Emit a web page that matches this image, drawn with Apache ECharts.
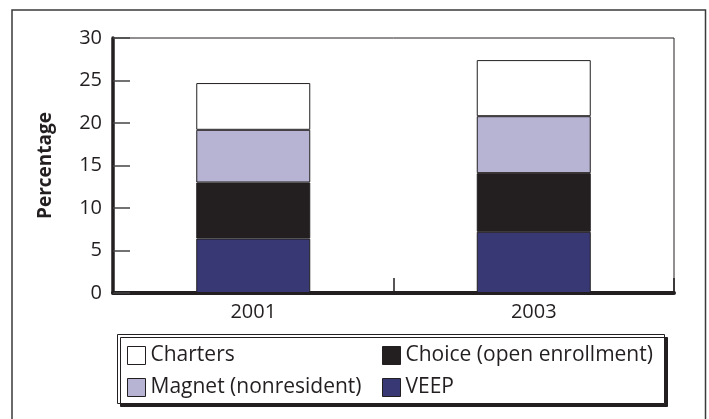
<!DOCTYPE html>
<html>
<head>
<meta charset="utf-8">
<script src="https://cdn.jsdelivr.net/npm/echarts@6/dist/echarts.min.js"></script>
<style>
  html, body { margin: 0; padding: 0; background: #fff; }
  #chart { width: 709px; height: 419px; }
</style>
</head>
<body>
<div id="chart"></div>
<script>
// values, percent
const years = ['2001', '2003'];
const veep = [6.4, 7.2];
const choice = [6.6, 6.9];
const magnet = [6.2, 6.7];
const charters = [5.5, 6.6];

const ink = '#231f20';
const font = 'Open Sans';

const chart = echarts.init(document.getElementById('chart'));

function stackBar(name, data, color) {
    return {
        name: name,
        type: 'bar',
        stack: 'total',
        data: data,
        barWidth: 114,
        itemStyle: { color: color, borderColor: ink, borderWidth: 1 }
    };
}

const legendBase = {
    orient: 'vertical',
    top: 345,
    padding: 0,
    itemWidth: 18,
    itemHeight: 18,
    itemGap: 11,
    icon: 'rect',
    selectedMode: false,
    itemStyle: { borderColor: ink, borderWidth: 1 },
    textStyle: { fontFamily: font, fontSize: 21, color: ink }
};

const option = {
    animation: false,
    grid: {
        left: 113, top: 38, width: 561, height: 255,
        show: true, borderColor: ink, borderWidth: 1
    },
    xAxis: {
        type: 'category',
        data: years,
        axisLine: { lineStyle: { color: ink, width: 4 } },
        axisTick: { show: true, inside: true, length: 15, lineStyle: { color: ink, width: 1.5 } },
        axisLabel: { fontFamily: font, fontSize: 20, color: ink, margin: 9 }
    },
    yAxis: {
        type: 'value',
        min: 0, max: 30, interval: 5,
        name: 'Percentage',
        nameLocation: 'middle',
        nameRotate: 90,
        nameGap: 58,
        nameTextStyle: { fontFamily: font, fontSize: 19, fontWeight: 'bold', color: ink },
        splitLine: { show: false },
        axisLine: { show: true, lineStyle: { color: ink, width: 3.5 } },
        axisTick: { show: true, inside: true, length: 17, lineStyle: { color: '#444', width: 1.5 } },
        axisLabel: { fontFamily: font, fontSize: 20, color: ink, margin: 11 }
    },
    legend: [
        Object.assign({}, legendBase, { left: 127, data: ['Charters', 'Magnet (nonresident)'] }),
        Object.assign({}, legendBase, { left: 382, data: ['Choice (open enrollment)', 'VEEP'] })
    ],
    graphic: [
        { type: 'rect', z: -10, shape: { x: 12, y: 10, width: 693.5, height: 430 },
          style: { fill: 'none', stroke: '#3a3a3a', lineWidth: 1.5 } },
        { type: 'rect', z: 0, shape: { x: 117.5, y: 334.5, width: 547, height: 69 },
          style: { fill: '#fff', stroke: ink, lineWidth: 1,
                   shadowColor: ink, shadowOffsetX: 3, shadowOffsetY: 3, shadowBlur: 0 } }
    ],
    series: [
        stackBar('VEEP', veep, '#383874'),
        stackBar('Choice (open enrollment)', choice, ink),
        stackBar('Magnet (nonresident)', magnet, '#b6b4d2'),
        stackBar('Charters', charters, '#ffffff')
    ]
};

chart.setOption(option);
</script>
</body>
</html>
